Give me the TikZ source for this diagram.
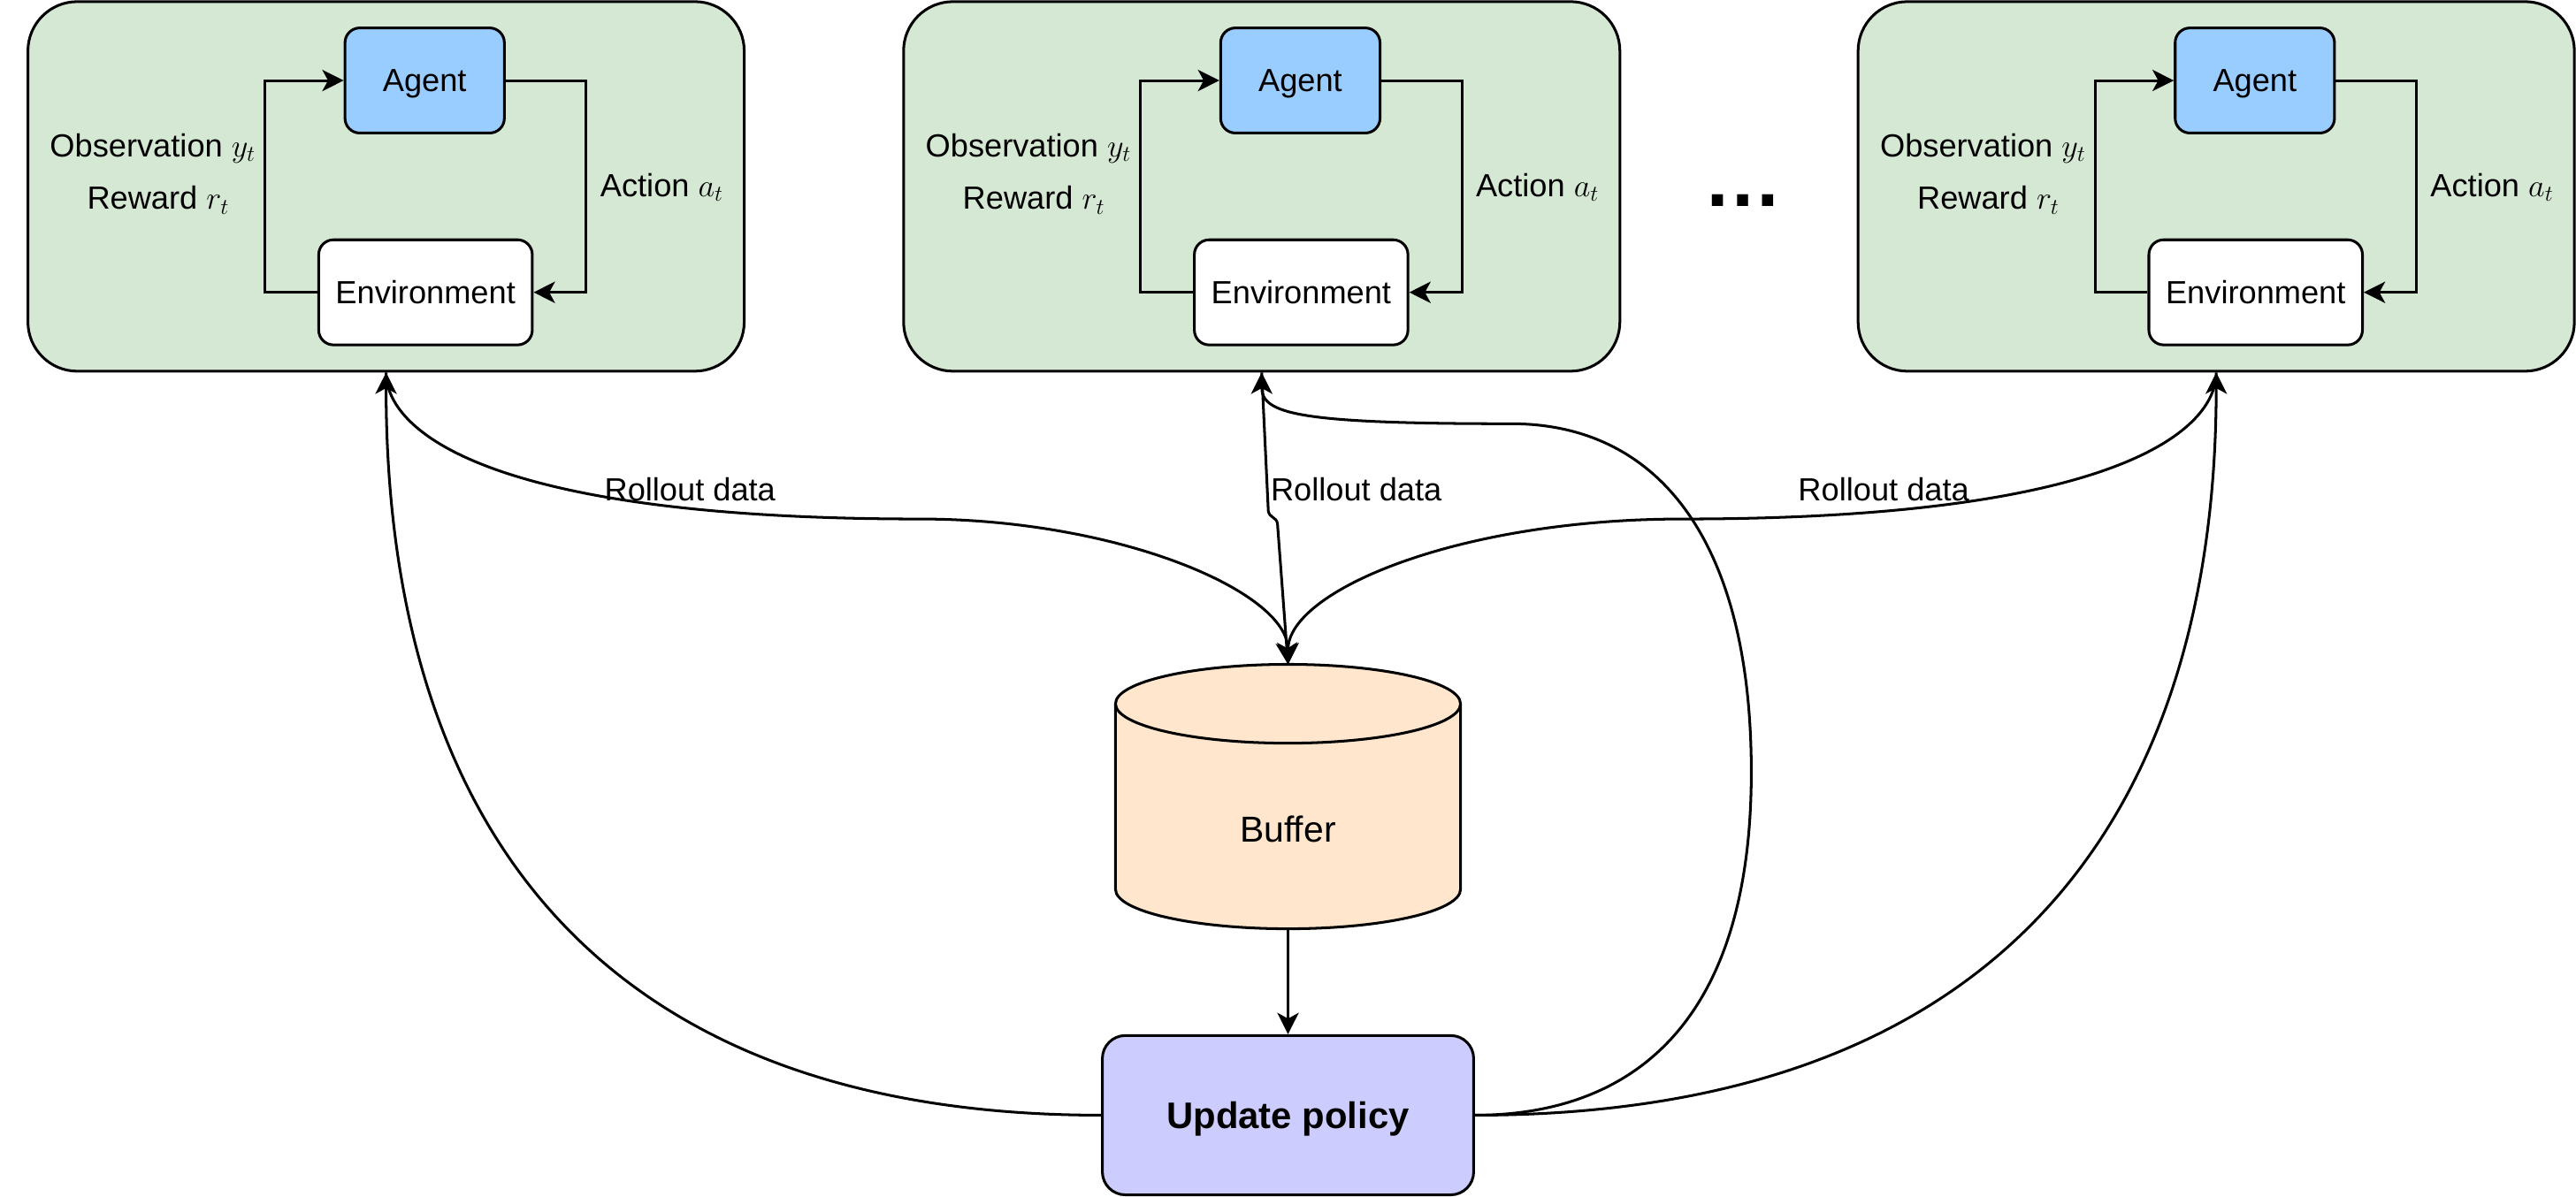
\RequirePackage{fix-cm}
\documentclass[tikz,border=0pt]{standalone}
\usepackage{fontspec}
\setmainfont{Liberation Sans}
\usetikzlibrary{arrows.meta}
\definecolor{panelgreen}{HTML}{D5E8D4}
\definecolor{agentblue}{HTML}{99CCFF}
\definecolor{bufferorange}{HTML}{FFE6CC}
\definecolor{updatepurple}{HTML}{CCCCFF}
\begin{document}
\begin{tikzpicture}[x=1pt,y=-1pt, line width=1.63pt,
  >={Stealth[length=13pt,width=13pt,inset=3.5pt]},
  panel/.style={draw, fill=panelgreen, rounded corners=30pt, minimum width=436pt, minimum height=225pt, inner sep=0pt},
  agentbox/.style={draw, fill=agentblue, rounded corners=9pt, minimum width=97pt, minimum height=64pt, inner sep=0pt, text depth=0pt, font=\fontsize{19.5}{23}\selectfont},
  envbox/.style={draw, fill=white, rounded corners=9pt, minimum width=130pt, minimum height=64pt, inner sep=0pt, text depth=0pt, font=\fontsize{19.5}{23}\selectfont},
  lbl/.style={inner sep=0pt, font=\fontsize{19.5}{23}\selectfont},
  updatebox/.style={draw, fill=updatepurple, rounded corners=14pt, minimum width=226pt, minimum height=97pt, inner sep=0pt, text depth=0pt, font=\bfseries\fontsize{22.5}{27}\selectfont},
  buflbl/.style={inner sep=0pt, text depth=0pt, font=\fontsize{22}{26}\selectfont},
  dotslbl/.style={inner sep=0pt, font=\bfseries\fontsize{48}{56}\selectfont}
]
\useasboundingbox (0,0) rectangle (1568,728.3);

\foreach \i/\cx in {1/235, 2/768, 3/1349}{
  \node[panel] (panel\i) at (\cx,113.5) {};
  \node[agentbox] (agent\i) at (\cx+23.5,49) {Agent};
  \node[envbox] (env\i) at (\cx+24,178) {Environment};
  \node[lbl, anchor=base] (obs\i) at (\cx-142,95.3) {Observation $y_t$};
  \node[lbl, anchor=base] (rew\i) at (\cx-138.7,127.5) {Reward $r_t$};
  \node[lbl, anchor=base west] (act\i) at (\cx+129.6,119.5) {Action $a_t$};
  \draw[->] (env\i.west) -- ++(-32,0) |- (agent\i.west);
  \draw[->] (agent\i.east) -- ++(49,0) |- (env\i.east);
}

\node[dotslbl, anchor=base] (dots) at (1060.75,125.6) {…};

% buffer cylinder
\draw[fill=bufferorange] (679,428.5) -- (679,541.5)
  arc[start angle=180, end angle=360, x radius=105pt, y radius=24pt]
  -- (889,428.5)
  arc[start angle=0, end angle=180, x radius=105pt, y radius=24pt] -- cycle;
\draw (679,428.5) arc[start angle=180, end angle=360, x radius=105pt, y radius=24pt];
\coordinate (buftop) at (784,404.5);
\coordinate (bufbot) at (784,565.5);
\node[buflbl] (buffer) at (784,505) {Buffer};

\node[updatebox] (update) at (784,679) {Update policy};

\draw[->] (bufbot) -- (update.north);

% rollout edges
\draw[->] (panel1.south) .. controls (235,260) and (290,316) .. (560,316)
  .. controls (680,316) and (784,360) .. (buftop);
\draw[->] (panel2.south) -- (772,311) .. controls (772.6,315.5) and (777,314.5) .. (777.6,319) -- (buftop);
\draw[->] (panel3.south) .. controls (1349,260) and (1294,316) .. (1024,316)
  .. controls (887,316) and (784,360) .. (buftop);

\node[lbl, anchor=base] (roll1) at (420,305) {Rollout data};
\node[lbl, anchor=base west] (roll2) at (772.7,305) {Rollout data};
\node[lbl, anchor=base] (roll3) at (1146.6,305) {Rollout data};

% policy update edges
\draw[->] (update.west) .. controls (351,679) and (235,488) .. (panel1.south);
\draw[->] (update.east) .. controls (1227,679) and (1349,488) .. (panel3.south);
\draw[->] (update.east) .. controls (987,679) and (1066,630) .. (1066,470)
  .. controls (1066,330) and (1010,258) .. (920,258)
  .. controls (790,258) and (768,252) .. (panel2.south);
\end{tikzpicture}
\end{document}
